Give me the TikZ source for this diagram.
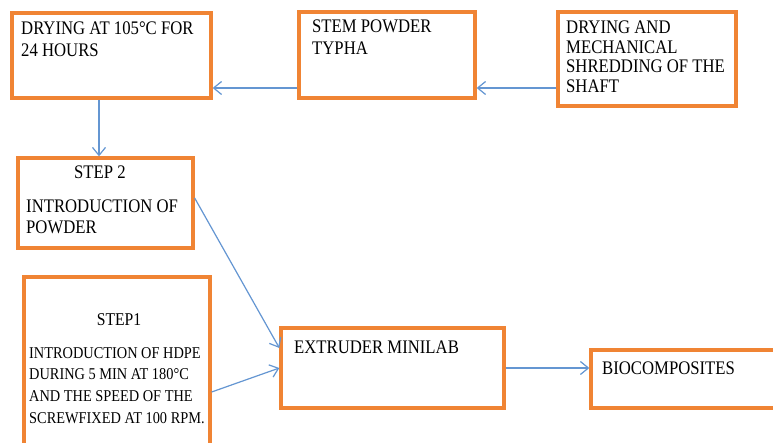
\documentclass[tikz,border=0pt]{standalone}
\usepackage{fontspec}
\setmainfont{Liberation Serif}[FakeStretch=0.87]
\usetikzlibrary{arrows.meta}
\definecolor{boxorange}{RGB}{240,132,52}
\definecolor{linkblue}{RGB}{100,150,210}
\begin{document}
\begin{tikzpicture}[x=1pt,y=-1pt,
  box/.style={draw=boxorange,line width=3.3pt,inner sep=0pt,rectangle,fill=white},
  txt/.style={inner sep=0pt,anchor=base west,align=left,font=\fontsize{19.2}{21.5}\selectfont},
  small/.style={inner sep=0pt,anchor=base west,align=left,font=\fontsize{16.5}{21.7}\selectfont},
  link/.style={draw=linkblue,line width=1.2pt,-{Straight Barb[length=8pt,width=13pt]}}]
\useasboundingbox (0,0) rectangle (773,443);
\clip (0,0) rectangle (773,443);
\fill[white] (0,0) rectangle (773,443);
% boxes
\node[box,minimum width=199pt,minimum height=85pt] (A) at (111.5,55.5) {};
\node[box,minimum width=176pt,minimum height=86pt] (B) at (387,55) {};
\node[box,minimum width=178pt,minimum height=94pt] (C) at (647,59) {};
\node[box,minimum width=175pt,minimum height=90pt] (D) at (105.5,203) {};
\node[box,minimum width=186pt,minimum height=193pt] (E) at (117,373.5) {};
\node[box,minimum width=223pt,minimum height=80pt] (F) at (392.5,368) {};
\node[box,minimum width=218pt,minimum height=58pt] (G) at (700,379) {};
% texts (anchor base = baseline of the last line)
\node[txt] (tA) at (21,56.5) {DRYING AT 105°C FOR\\24 HOURS};
\node[txt] (tB) at (312,54.5) {STEM POWDER\\TYPHA};
\node[txt,font=\fontsize{19.2}{19.5}\selectfont] (tC) at (566,92.5) {DRYING AND\\MECHANICAL\\SHREDDING OF THE\\SHAFT};
\node[txt] (tD1) at (74,179) {STEP 2};
\node[txt,font=\fontsize{19.2}{21}\selectfont] (tD2) at (26,234) {INTRODUCTION OF\\POWDER};
\node[txt,font=\fontsize{18}{21}\selectfont,anchor=base] (tE1) at (119,325) {STEP1};
\node[small] (tE2) at (29,423.1) {INTRODUCTION OF HDPE\\DURING 5 MIN AT 180°C\\AND THE SPEED OF THE\\SCREWFIXED AT 100 RPM.};
\node[txt] (tF) at (294,353) {EXTRUDER MINILAB};
\node[txt] (tG) at (602,374) {BIOCOMPOSITES};
% connectors
\draw[link] ([yshift=-29pt]C.west) -- ([yshift=-33pt]B.east);
\draw[link] ([yshift=-33pt]B.west) -- ([yshift=-32.5pt]A.east);
\draw[link] ([xshift=-12.5pt]A.south) -- ([xshift=-6.5pt]D.north);
\draw[link] ([yshift=5pt]D.east) -- ([yshift=20pt]F.west);
\draw[link] ([yshift=-18.5pt]E.east) -- (F.west);
\draw[link] (F.east) -- (F.east -| G.west);
\end{tikzpicture}
\end{document}
